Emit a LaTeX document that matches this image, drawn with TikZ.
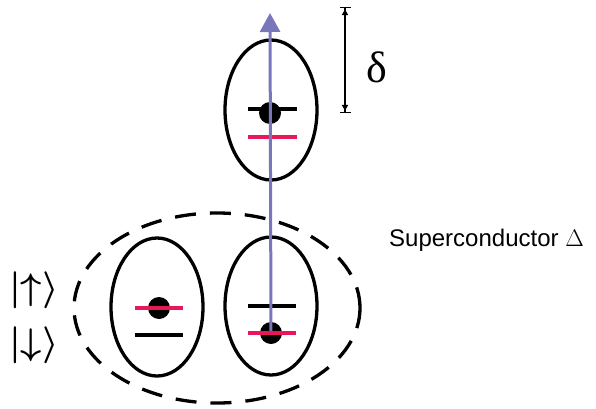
\RequirePackage{fix-cm}
\documentclass[tikz,border=0pt]{standalone}
\usepackage{fontspec}
\newfontfamily\labelfont{Liberation Sans}
\newfontfamily\greekfont{Liberation Serif}
\usepackage{tikz}
\usetikzlibrary{arrows.meta}
\definecolor{levelred}{RGB}{232,24,88}
\definecolor{spinblue}{RGB}{122,118,188}
\tikzset{
  dotwell/.style={black, line width=3.3pt},
  level/.style={line width=3.5pt},
  electron/.style={circle, fill=black, inner sep=0pt, minimum size=22pt},
  ket/.style={font=\fontsize{37}{40}\selectfont\boldmath, inner sep=0pt},
}

\begin{document}
\begin{tikzpicture}[x=1pt,y=1pt]
\useasboundingbox (0,0) rectangle (596,408);
\draw[black, line width=3.3pt, dash pattern=on 21pt off 14pt] (217,100) ellipse (143 and 95);
\draw[dotwell] (271,298) ellipse (46 and 70);
\draw[dotwell] (157,101) ellipse (46 and 69);
\draw[dotwell] (271,102) ellipse (46 and 69);
\draw[level, black] (248,299) -- (297,299);
\draw[level, levelred] (248,271) -- (297,271);
\draw[level, black] (248,102) -- (296,102);
\draw[level, black] (135,73) -- (183,73);
\node[electron] (eTop) at (270,295) {};
\node[electron] (eLeft) at (159,100) {};
\node[electron] (eRight) at (271,75) {};
\draw[level, levelred] (135,100) -- (183,100);
\coordinate (spinTip) at (270,395);
\draw[spinblue, line width=3pt, -{Triangle[width=20pt,length=19pt]}] (eRight.center) -- (spinTip);
\draw[level, levelred] (248,75) -- (296,75);
\coordinate (splitTop) at (345,401);
\coordinate (splitBot) at (345,295);
\draw[black, line width=1.2pt, {Bar[width=11pt]Latex[length=7pt,width=7pt]}-{Latex[length=7pt,width=7pt]Bar[width=11pt]}] (splitTop) -- (splitBot);
\node[font=\greekfont\fontsize{44}{48}\selectfont] (split) at (377,341) {δ};
\node[ket] (up) at (34,118) {$|{\uparrow}\rangle$};
\node[ket] (down) at (34,63) {$|{\downarrow}\rangle$};
\node[anchor=west, font=\labelfont\fontsize{24}{28}\selectfont, inner sep=0pt] (sc) at (389,168) {Superconductor $\Delta$};
\end{tikzpicture}
\end{document}
